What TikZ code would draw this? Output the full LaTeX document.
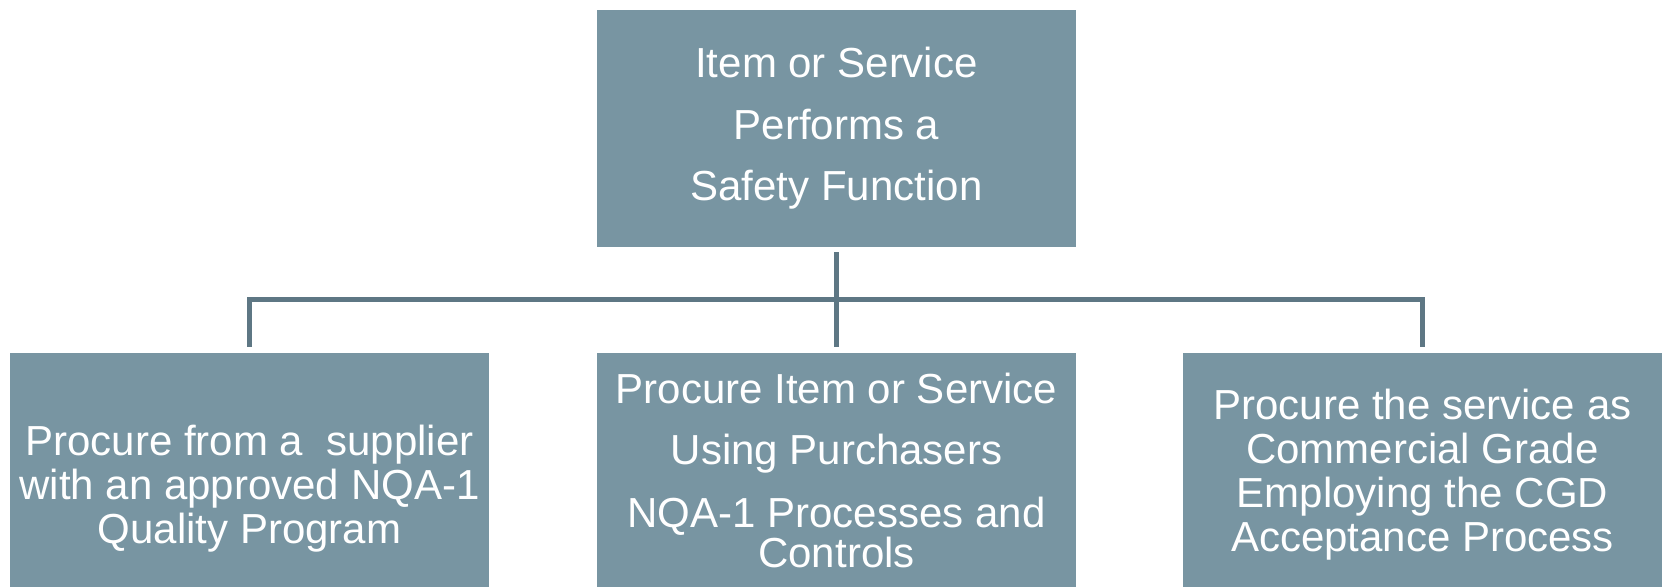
\documentclass[tikz,border=0pt]{standalone}
\usepackage{fontspec}
\setmainfont{Liberation Sans}
\definecolor{boxfill}{RGB}{120,149,162}
\definecolor{linkcol}{RGB}{94,119,132}
\begin{document}
\begin{tikzpicture}[x=0.5pt,y=-0.5pt,
  box/.style={draw=none, fill=boxfill, text=white, align=center,
    minimum width=239.5pt, minimum height=#1, inner sep=0pt,
    font=\fontsize{21}{22}\selectfont},
  box/.default=121.5pt,
  link/.style={draw=linkcol, line width=2.5pt}]
\useasboundingbox (0,0) rectangle (1663,586);
% top box
\node[box=118.5pt, font=\fontsize{21}{30.75}\selectfont] (safety) at (836.5,128.5)
  {Item or Service\\Performs a\\Safety Function};
% bottom row
\node[box=135.5pt] (supplier) at (249.5,488.5)
  {Procure from a~ supplier\\with an approved NQA-1\\Quality Program};
\node[box] (purchaser) at (836.5,474.5)
  {Procure Item or Service\\[8.75pt]Using Purchasers\\[9.5pt]NQA-1 Processes and\\[-2pt]Controls\vphantom{g}};
\node[box] (cgd) at (1422.5,474.5)
  {Procure the service as\\Commercial Grade\\Employing the CGD\\Acceptance Process};
% connectors
\draw[link] ([yshift=-2.5pt]safety.south) -- ([yshift=3pt]purchaser.north);
\draw[link] ([yshift=3pt]supplier.north) -- ++(0,-47) -| ([yshift=3pt]cgd.north);
\end{tikzpicture}
\end{document}
